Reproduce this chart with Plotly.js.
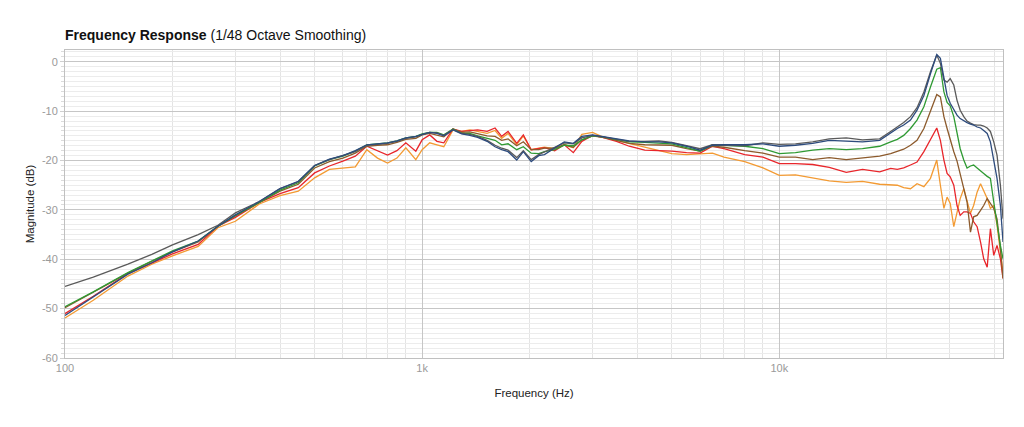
<!DOCTYPE html>
<html>
<head>
    <meta charset='utf-8'>
    <title>Frequency Response</title>
    <script src="https://cdn.plot.ly/plotly-3.0.1.min.js"></script>
    <style>
        body { margin:0; background:#fff; }
        #chartDiv { width:1024px; height:427px; }
    </style>
</head>
<body>
    <div id="chartDiv"></div>

    <script>
        // frequency points (Hz), shared by all curves
        const freqs = [
            100, 120, 150, 175, 200, 236, 268, 300, 350, 400,
            450, 500, 550, 600, 650, 700, 750, 800, 850, 900, 960, 1000,
            1050, 1100, 1150, 1220, 1290, 1360, 1430, 1520, 1600, 1670, 1740, 1840, 1920, 2020, 2120,
            2200, 2350, 2500, 2650, 2800, 3000, 3200, 3500, 3800, 4200, 4600, 5000, 5500, 6000, 6500, 7000, 8000, 9000, 10000,
            11100, 12400, 13800, 15400, 17100, 19100,
            20500, 21400, 22300, 23300, 24300, 25400, 26500, 27600, 28250, 28900,
            29500, 30100, 30800, 31450, 32100, 32850, 33550, 34300, 35000, 35800,
            36600, 37350, 38200, 39000, 39850, 40700, 41600, 42300
        ];

        const greyDb = [
            -45.5, -43.6, -41.0, -39.0, -37.1, -35.0, -33.1, -30.6, -28.3, -25.7,
            -24.3, -21.0, -19.8, -19.0, -18.2, -16.9, -16.7, -16.5, -16.1, -15.5, -15.2, -14.7,
            -14.3, -14.4, -14.9, -13.7, -14.5, -14.7, -15.1, -15.9, -16.9, -17.5, -17.9, -19.4, -18.0, -19.8, -18.8,
            -18.3, -17.3, -16.4, -16.6, -15.4, -14.9, -15.2, -15.6, -16.1, -16.1, -16.0, -16.3, -17.0, -17.6, -16.8, -16.9, -17.0, -16.4, -16.7,
            -16.6, -16.2, -15.6, -15.4, -15.8, -15.6,
            -14.1, -13.2, -12.3, -11.1, -9.3, -6.1, -2.0, 1.4, -0.3, -3.7,
            -4.1, -3.4, -4.7, -7.8, -9.8, -11.1, -12.0, -12.4, -12.7, -12.8,
            -12.8, -13.0, -13.4, -14.1, -16.2, -18.9, -25.0, -31.8
        ];

        const navyDb = [
            -51.4, -47.7, -43.0, -40.7, -38.5, -36.3, -33.3, -31.0, -28.3, -25.7,
            -24.2, -21.0, -19.7, -19.0, -18.0, -16.8, -16.6, -16.4, -16.0, -15.4, -15.1, -14.8,
            -14.3, -14.5, -15.0, -13.8, -14.6, -14.9, -15.3, -16.1, -17.2, -17.8, -18.2, -19.9, -18.2, -20.2, -19.0,
            -18.8, -17.5, -16.2, -16.5, -15.1, -14.8, -15.1, -15.6, -16.0, -16.2, -16.2, -16.4, -17.1, -17.9, -16.9, -16.8, -16.8, -16.6, -17.1,
            -16.9, -16.5, -15.9, -16.1, -16.2, -15.9,
            -14.3, -13.5, -12.8, -11.8, -9.8, -6.8, -2.4, 1.5, 0.7, -3.0,
            -6.8, -8.4, -9.8, -10.8, -11.5, -12.0, -12.3, -12.6, -12.8, -13.2,
            -13.4, -13.9, -14.5, -16.2, -19.6, -23.6, -29.1, -36.5
        ];

        const greenDb = [
            -49.6, -46.6, -42.7, -40.3, -38.3, -36.3, -33.3, -31.1, -28.5, -26.0,
            -24.5, -21.1, -19.8, -19.1, -18.1, -16.8, -16.6, -16.4, -16.0, -15.4, -15.1, -14.6,
            -14.3, -14.3, -14.8, -13.6, -14.5, -14.5, -15.0, -15.5, -15.9, -16.8, -16.6, -17.8, -17.2, -18.5, -18.6,
            -18.2, -17.8, -16.9, -17.0, -15.8, -15.0, -15.2, -15.7, -16.2, -16.3, -16.4, -16.6, -17.4, -18.1, -16.8, -16.9, -17.1, -17.6, -18.6,
            -18.4, -17.9, -17.6, -17.8, -17.6, -17.1,
            -16.2, -15.7, -14.9, -13.5, -11.8, -9.1, -5.1, -1.5, -1.2, -6.1,
            -8.2, -8.9, -11.1, -14.3, -17.6, -19.9, -21.5, -21.1, -20.9, -21.5,
            -22.0, -22.6, -23.2, -23.6, -28.4, -33.1, -37.2, -39.9
        ];

        const brownDb = [
            -49.8, -46.7, -42.8, -40.4, -38.5, -36.5, -33.3, -31.2, -28.6, -26.2,
            -24.8, -21.5, -20.2, -19.5, -18.5, -17.1, -16.9, -16.8, -16.3, -15.7, -15.5, -14.8,
            -14.5, -14.8, -15.2, -13.6, -14.3, -14.2, -14.6, -15.0, -15.1, -15.9, -15.6, -17.0, -16.2, -17.8, -17.8,
            -17.5, -17.5, -16.8, -17.3, -15.8, -15.0, -15.3, -15.9, -16.5, -16.8, -16.8, -16.9, -17.6, -18.1, -17.1, -17.3, -18.0, -18.5, -19.3,
            -19.3, -19.8, -19.4, -19.8, -19.5, -19.1,
            -18.6, -18.1, -17.7, -16.9, -15.9, -13.5, -10.1, -6.6, -7.1, -11.1,
            -13.5, -15.9, -18.2, -20.1, -23.0, -25.7, -28.4, -34.5, -31.4, -31.1,
            -30.1, -29.1, -27.7, -28.7, -29.7, -31.8, -37.8, -43.9
        ];

        const redDb = [
            -51.0, -47.5, -42.9, -40.7, -38.9, -37.0, -33.3, -31.5, -28.5, -26.7,
            -25.5, -22.5, -21.1, -20.1, -19.1, -17.1, -18.1, -18.9, -18.0, -16.4, -18.1, -15.8,
            -14.8, -16.1, -16.4, -13.6, -14.1, -13.9, -13.8, -14.1, -13.4, -15.1, -14.1, -16.5, -14.8, -17.8, -17.5,
            -17.4, -18.0, -16.8, -18.4, -16.1, -14.9, -15.3, -16.1, -17.1, -17.9, -18.0, -18.1, -18.4, -18.5, -17.1, -17.6, -18.8, -19.3, -20.6,
            -20.6, -20.8, -21.4, -22.4, -21.8, -22.3,
            -21.6, -21.8, -21.5, -20.9, -20.3, -18.2, -15.9, -13.4, -15.9, -19.9,
            -22.6, -23.3, -25.0, -29.1, -31.1, -30.4, -30.4, -30.7, -32.4, -33.4,
            -36.5, -39.9, -41.6, -33.8, -39.2, -37.2, -39.9, -43.9
        ];

        const orangeDb = [
            -51.9, -48.3, -43.4, -41.0, -39.3, -37.4, -33.6, -32.3, -28.8, -27.1,
            -26.2, -23.5, -21.8, -21.5, -21.3, -17.8, -19.5, -20.5, -19.5, -17.4, -19.8, -17.8,
            -16.4, -16.8, -17.2, -13.8, -14.1, -13.8, -14.1, -14.5, -13.9, -15.5, -14.5, -16.8, -15.0, -17.8, -17.5,
            -17.3, -17.6, -16.8, -17.4, -14.7, -14.3, -15.2, -15.9, -16.5, -17.3, -18.0, -18.6, -18.8, -18.7, -18.5, -19.3, -20.2, -21.5, -23.0,
            -22.9, -23.5, -24.1, -24.4, -24.2, -24.8,
            -24.9, -25.0, -25.5, -25.7, -24.7, -25.3, -23.6, -19.9, -25.0, -29.7,
            -27.4, -28.7, -33.4, -30.4, -27.7, -25.7, -28.4, -30.7, -29.1, -26.4,
            -24.7, -26.0, -27.7, -29.7, -29.1, -33.1, -38.5, -42.6
        ];

        const seriesList = [
            { y: orangeDb, color: '#f39a32' },
            { y: redDb,    color: '#e8262b' },
            { y: brownDb,  color: '#8c5a2c' },
            { y: greenDb,  color: '#2f9a33' },
            { y: greyDb,   color: '#5a5a5a' },
            { y: navyDb,   color: '#2d4b7d' },
        ];

        const majorTicks = [100, 1000, 10000];
        const majorText = ['100', '1k', '10k'];
        const dbTicks = [0, -10, -20, -30, -40, -50, -60];
        const dbText = ['0', '-10', '-20', '-30', '-40', '-50', '-60'];

        // 2..9 of each decade for the light vertical grid
        const minorTicks = [];
        for (let d = 100; d <= 10000; d *= 10) {
            for (let m = 2; m <= 9; m++) {
                if (d * m < 43000) minorTicks.push(d * m);
            }
        }

        const fontFam = '"Helvetica Neue", "Liberation Sans", Arial, sans-serif';

        const traces = seriesList.map(s => ({
            x: freqs,
            y: s.y,
            type: 'scatter',
            mode: 'lines',
            line: { color: s.color, width: 1.3 },
            hoverinfo: 'x+y',
            showlegend: false,
        }));

        const layout = {
            width: 1024,
            height: 427,
            margin: { l: 65, r: 21, t: 50, b: 69 },
            paper_bgcolor: '#ffffff',
            plot_bgcolor: '#ffffff',
            font: { family: fontFam, color: '#222' },
            title: {
                text: '<span style="font-weight:600">Frequency Response</span> (1/48 Octave Smoothing)',
                font: { size: 14, color: '#111', family: fontFam },
                xref: 'paper', x: 0, xanchor: 'left',
                yref: 'container', y: 0.918, yanchor: 'middle',
            },
            xaxis: {
                type: 'log',
                range: [2, Math.log10(42300)],
                tickmode: 'array',
                tickvals: majorTicks,
                ticktext: majorText,
                tickfont: { size: 11, color: '#9a9a9a' },
                showgrid: true,
                gridcolor: '#c6c6c6',
                gridwidth: 1,
                minor: { tickmode: 'array', tickvals: minorTicks, showgrid: true, gridcolor: '#e4e4e4' },
                showline: true, mirror: true, linecolor: '#c0c0c0',
                zeroline: false,
                title: { text: 'Frequency (Hz)', font: { size: 11.5, color: '#222' }, standoff: 15 },
            },
            yaxis: {
                range: [-60, 2.4],
                tickmode: 'array',
                tickvals: dbTicks,
                ticktext: dbText,
                tickfont: { size: 11, color: '#9a9a9a' },
                ticks: 'outside', ticklen: 4, tickcolor: '#d0d0d0',
                showgrid: true,
                gridcolor: '#c6c6c6',
                minor: { dtick: 1, showgrid: true, gridcolor: '#ececec', ticks: 'outside', ticklen: 3, tickcolor: '#dcdcdc' },
                showline: true, mirror: true, linecolor: '#c0c0c0',
                zeroline: false,
                title: { text: 'Magnitude (dB)', font: { size: 11.5, color: '#222' }, standoff: 4 },
            },
        };

        Plotly.newPlot('chartDiv', traces, layout, { displayModeBar: false, staticPlot: true });
    </script>
</body>
</html>
